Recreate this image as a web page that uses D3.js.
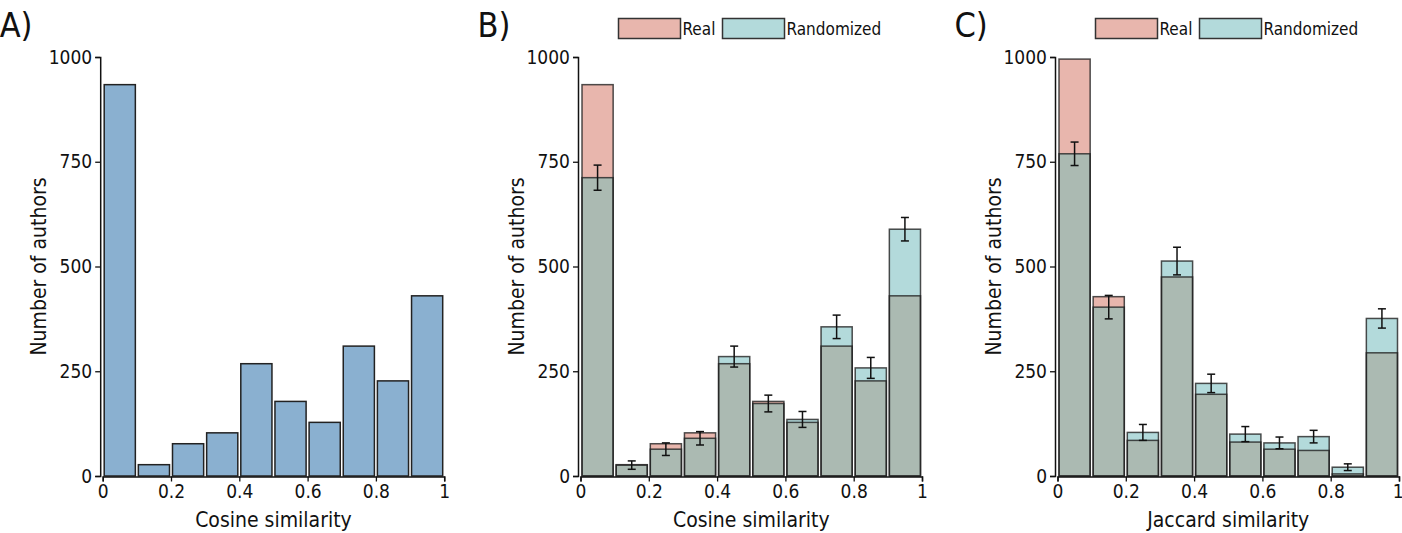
<!DOCTYPE html>
<html>
<head>
<meta charset="utf-8">
<script src="https://cdn.jsdelivr.net/npm/d3@7"></script>
<style>
  body { margin: 0; background: #fff; }
  svg text { font-family: "DejaVu Sans Condensed", "DejaVu Sans", sans-serif; font-stretch: condensed; fill: #111; }
</style>
</head>
<body>
<div id="chart"></div>
<script>
// bin starts (width 0.1)
var binStarts = [0, 0.1, 0.2, 0.3, 0.4, 0.5, 0.6, 0.7, 0.8, 0.9];
var binWidth = 0.1;
var xTicks = [0, 0.2, 0.4, 0.6, 0.8, 1];
var yTicks = [0, 250, 500, 750, 1000];

var cosineReal = [934, 27, 77, 103, 268, 178, 128, 310, 227, 430];
var cosineRand = [712, 26, 64, 90, 285, 173, 135, 356, 258, 589];
var cosineRandErr = [30, 10, 15, 16, 25, 20, 19, 28, 25, 28];

var jaccardReal = [995, 428, 85, 475, 195, 81, 64, 61, 5, 294];
var jaccardRand = [769, 403, 104, 513, 221, 100, 79, 94, 21, 376];
var jaccardRandErr = [28, 28, 19, 33, 22, 18, 14, 15, 8, 23];

var panelLabels = ["A)", "B)", "C)"];
var xLabels = ["Cosine similarity", "Cosine similarity", "Jaccard similarity"];
var yLabel = "Number of authors";
var legendNames = ["Real", "Randomized"];

var colSingle = "#8ab0d0", colReal = "#e8b6ad", colRand = "#b3dadb", colBoth = "#abbab2";

var W = 1402, H = 533;
var svg = d3.select("#chart").append("svg").attr("width", W).attr("height", H);

var panelX = [102.7, 580.5, 1057.5];
var panelW = 341.5;
var yTop = 57, yBottom = 476;

function fmtX(d) { return (d === 0 || d === 1) ? String(d) : d.toFixed(1); }

function drawPanel(i, real, rand, err) {
    var x0 = panelX[i];
    var x = d3.scaleLinear().domain([0, 1]).range([x0, x0 + panelW]);
    var y = d3.scaleLinear().domain([0, 1000]).range([yBottom, yTop]);
    var g = svg.append("g");
    var pad = 1.5;

    function bx(d, k) { return x(binStarts[k]) + pad; }
    var bw = x(binWidth) - x(0) - 2 * pad;

    if (!rand) {
        g.selectAll(".bar").data(real).enter().append("rect")
            .attr("x", bx).attr("width", bw)
            .attr("y", function (d) { return y(d); })
            .attr("height", function (d) { return y(0) - y(d); })
            .attr("fill", colSingle).attr("stroke", "#222").attr("stroke-width", 1.5);
    } else {
        // fills: real, randomized, then overlap
        g.selectAll(".real").data(real).enter().append("rect")
            .attr("x", bx).attr("width", bw)
            .attr("y", function (d) { return y(d); })
            .attr("height", function (d) { return y(0) - y(d); })
            .attr("fill", colReal);
        g.selectAll(".rand").data(rand).enter().append("rect")
            .attr("x", bx).attr("width", bw)
            .attr("y", function (d) { return y(d); })
            .attr("height", function (d) { return y(0) - y(d); })
            .attr("fill", colRand);
        g.selectAll(".both").data(real).enter().append("rect")
            .attr("x", bx).attr("width", bw)
            .attr("y", function (d, k) { return y(Math.min(d, rand[k])); })
            .attr("height", function (d, k) { return y(0) - y(Math.min(d, rand[k])); })
            .attr("fill", colBoth);
        // outlines
        [real, rand].forEach(function (vals) {
            g.selectAll(null).data(vals).enter().append("rect")
                .attr("x", bx).attr("width", bw)
                .attr("y", function (d) { return y(d); })
                .attr("height", function (d) { return y(0) - y(d); })
                .attr("fill", "none").attr("stroke", "#222").attr("stroke-opacity", 0.8)
                .attr("stroke-width", 1.5);
        });
        // error bars
        var eb = g.selectAll(".err").data(rand).enter().append("g")
            .attr("stroke", "#111").attr("stroke-width", 1.5);
        var cx = function (d, k) { return x(binStarts[k] + binWidth / 2); };
        eb.append("line")
            .attr("x1", cx).attr("x2", cx)
            .attr("y1", function (d, k) { return y(d + err[k]); })
            .attr("y2", function (d, k) { return y(d - err[k]); });
        [1, -1].forEach(function (s) {
            eb.append("line")
                .attr("x1", function (d, k) { return cx(d, k) - 4; })
                .attr("x2", function (d, k) { return cx(d, k) + 4; })
                .attr("y1", function (d, k) { return y(d + s * err[k]); })
                .attr("y2", function (d, k) { return y(d + s * err[k]); });
        });

        // legend
        var lg = g.append("g");
        var lx = [x0 + 38, x0 + 142];
        var lc = [colReal, colRand];
        legendNames.forEach(function (name, k) {
            lg.append("rect").attr("x", lx[k]).attr("y", 18.5).attr("width", 62).attr("height", 20)
                .attr("fill", lc[k]).attr("stroke", "#333").attr("stroke-width", 1.5);
            lg.append("text").attr("x", lx[k] + 64).attr("y", 35)
                .style("font-size", "17px").text(name);
        });
    }

    // axes
    var xa = g.append("g").attr("transform", "translate(0," + (yBottom + 0.5) + ")")
        .call(d3.axisBottom(x).tickValues(xTicks).tickFormat(fmtX).tickSizeOuter(0).tickSize(5).tickPadding(3));
    var ya = g.append("g").attr("transform", "translate(" + (x0 - 2.5) + ",0)")
        .call(d3.axisLeft(y).tickValues(yTicks).tickFormat(d3.format("d")).tickSizeOuter(0).tickSize(5).tickPadding(3));
    [xa, ya].forEach(function (a) {
        a.attr("font-family", null);
        a.select(".domain").attr("stroke", "#111").attr("stroke-width", 1.5);
        a.selectAll(".tick line").attr("stroke", "#111").attr("stroke-width", 1.3);
        a.selectAll(".tick text").style("font-size", "19px").attr("fill", "#111");
    });
    // keep the last tick label inside the page
    xa.selectAll(".tick text").filter(function (d) { return d === 1 && x(1) > W - 8; })
        .attr("text-anchor", "end").attr("dx", "4");

    g.append("text").attr("x", x0 + panelW / 2).attr("y", 527)
        .attr("text-anchor", "middle").style("font-size", "21px").text(xLabels[i]);
    g.append("text")
        .attr("transform", "translate(" + (x0 - 57) + "," + ((yTop + yBottom) / 2) + ") rotate(-90)")
        .attr("text-anchor", "middle").style("font-size", "21px").text(yLabel);
    g.append("text").attr("x", x0 - 103).attr("y", 37)
        .style("font-size", "34px").text(panelLabels[i]);
}

drawPanel(0, cosineReal, null, null);
drawPanel(1, cosineReal, cosineRand, cosineRandErr);
drawPanel(2, jaccardReal, jaccardRand, jaccardRandErr);
</script>
</body>
</html>
